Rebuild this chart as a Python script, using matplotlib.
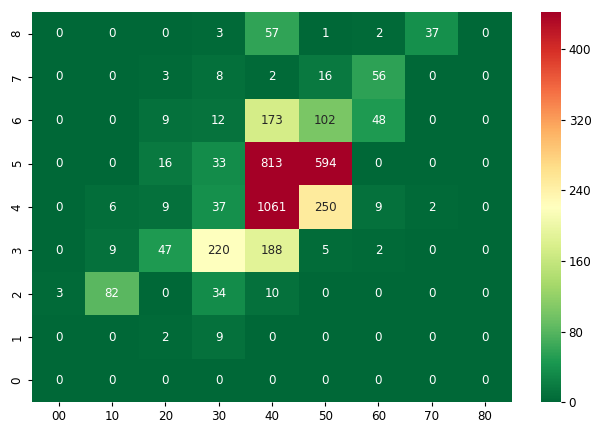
import numpy as np
import pandas as pd
import matplotlib
matplotlib.use("Agg")
import matplotlib.pyplot as plt
import seaborn as sns

# filas de arriba (8) hacia abajo (0)
row_labels = ["8", "7", "6", "5", "4", "3", "2", "1", "0"]
col_labels = ["00", "10", "20", "30", "40", "50", "60", "70", "80"]

row8 = [0, 0, 0, 3, 57, 1, 2, 37, 0]
row7 = [0, 0, 3, 8, 2, 16, 56, 0, 0]
row6 = [0, 0, 9, 12, 173, 102, 48, 0, 0]
row5 = [0, 0, 16, 33, 813, 594, 0, 0, 0]
row4 = [0, 6, 9, 37, 1061, 250, 9, 2, 0]
row3 = [0, 9, 47, 220, 188, 5, 2, 0, 0]
row2 = [3, 82, 0, 34, 10, 0, 0, 0, 0]
row1 = [0, 0, 2, 9, 0, 0, 0, 0, 0]
row0 = [0, 0, 0, 0, 0, 0, 0, 0, 0]

df = pd.DataFrame([row8, row7, row6, row5, row4, row3, row2, row1, row0],
                  index=row_labels, columns=col_labels)

fig = plt.figure(figsize=(5.93, 4.26), dpi=100)
ax = fig.add_axes([0.054, 0.056, 0.809, 0.916])
cax = fig.add_axes([0.913, 0.056, 0.033, 0.916])

sns.heatmap(df, ax=ax, cbar_ax=cax, cmap="RdYlGn_r", vmin=0, vmax=442,
            annot=True, fmt="d", annot_kws={"fontsize": 8.6})
cax.set_yticks([0, 80, 160, 240, 320, 400])
ax.tick_params(labelsize=8.6, length=3, pad=3)
cax.tick_params(labelsize=8.6, length=3, pad=2.5)

plt.savefig("out.png", dpi=100)
